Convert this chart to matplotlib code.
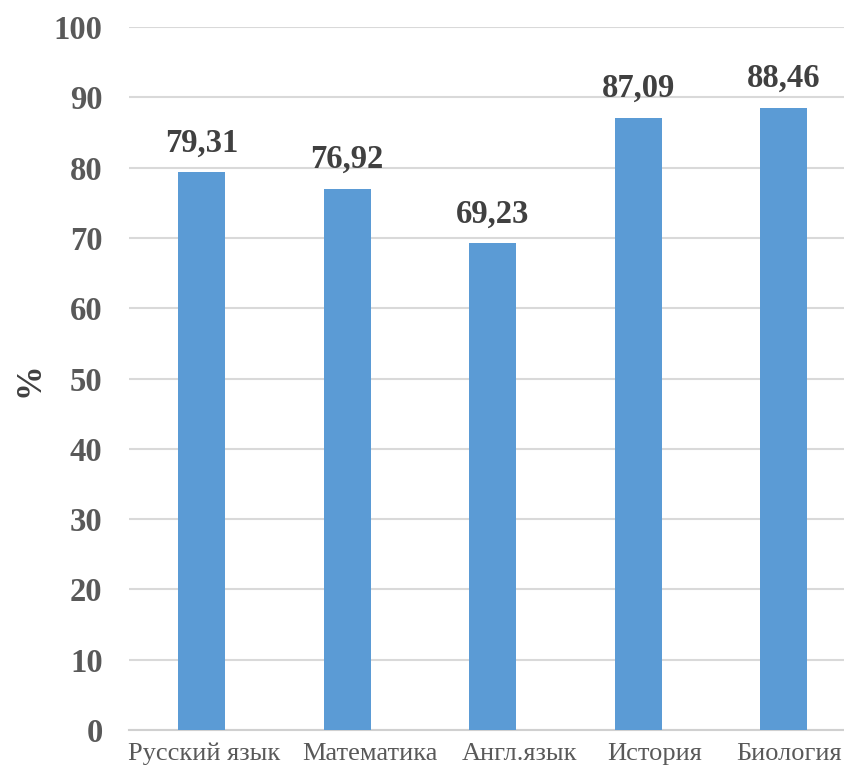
import numpy as np
import matplotlib.pyplot as plt
from matplotlib.transforms import ScaledTranslation

# -----------------------------
# Data
# -----------------------------
subjects = ["Русский язык", "Математика", "Англ.язык", "История", "Биология"]
percent = [79.31, 76.92, 69.23, 87.09, 88.46]
value_labels = ["79,31", "76,92", "69,23", "87,09", "88,46"]
y_ticks = list(range(0, 101, 10))

plt.rcParams["font.family"] = ["Liberation Serif", "DejaVu Serif"]

fig = plt.figure(figsize=(8.44, 7.74), dpi=100)
ax = fig.add_axes([0.1528, 0.0568, 0.8472, 0.9083])

x = np.arange(len(subjects))
ax.bar(x, percent, width=0.32, color="#5B9BD5", zorder=3)

for xi, v, lab in zip(x, percent, value_labels):
    ax.text(xi, v + 2.0, lab, ha="center", va="bottom",
            fontsize=23.5, fontweight="bold", color="#404040")

ax.set_xlim(-0.5, 4.414)
ax.set_ylim(0, 100)
ax.set_yticks(y_ticks)
ax.set_yticklabels([str(t) for t in y_ticks], fontsize=23.5,
                   fontweight="bold", color="#595959")
ax.set_xticks(x)
ax.set_xticklabels(subjects, fontsize=19, color="#595959")
ax.tick_params(axis="both", length=0)
ax.tick_params(axis="y", pad=19)
ax.tick_params(axis="x", pad=9)

# category labels are spread out a little in the original (no overlap)
shifts_px = [2, 23, 27, 16, 5]
for lbl, dx in zip(ax.get_xticklabels(), shifts_px):
    lbl.set_transform(lbl.get_transform() +
                      ScaledTranslation(dx / 100, 0, fig.dpi_scale_trans))

ax.grid(axis="y", color="#D9D9D9", linewidth=1.5, zorder=0)
for side in ["top", "right", "left"]:
    ax.spines[side].set_visible(False)
ax.spines["bottom"].set_color("#D0D0D0")
ax.spines["bottom"].set_linewidth(1.5)

fig.text(0.035, 0.51, "%", rotation=90, ha="center", va="center",
         fontsize=25, fontweight="bold", color="#404040")

fig.savefig("out.png", dpi=100)
